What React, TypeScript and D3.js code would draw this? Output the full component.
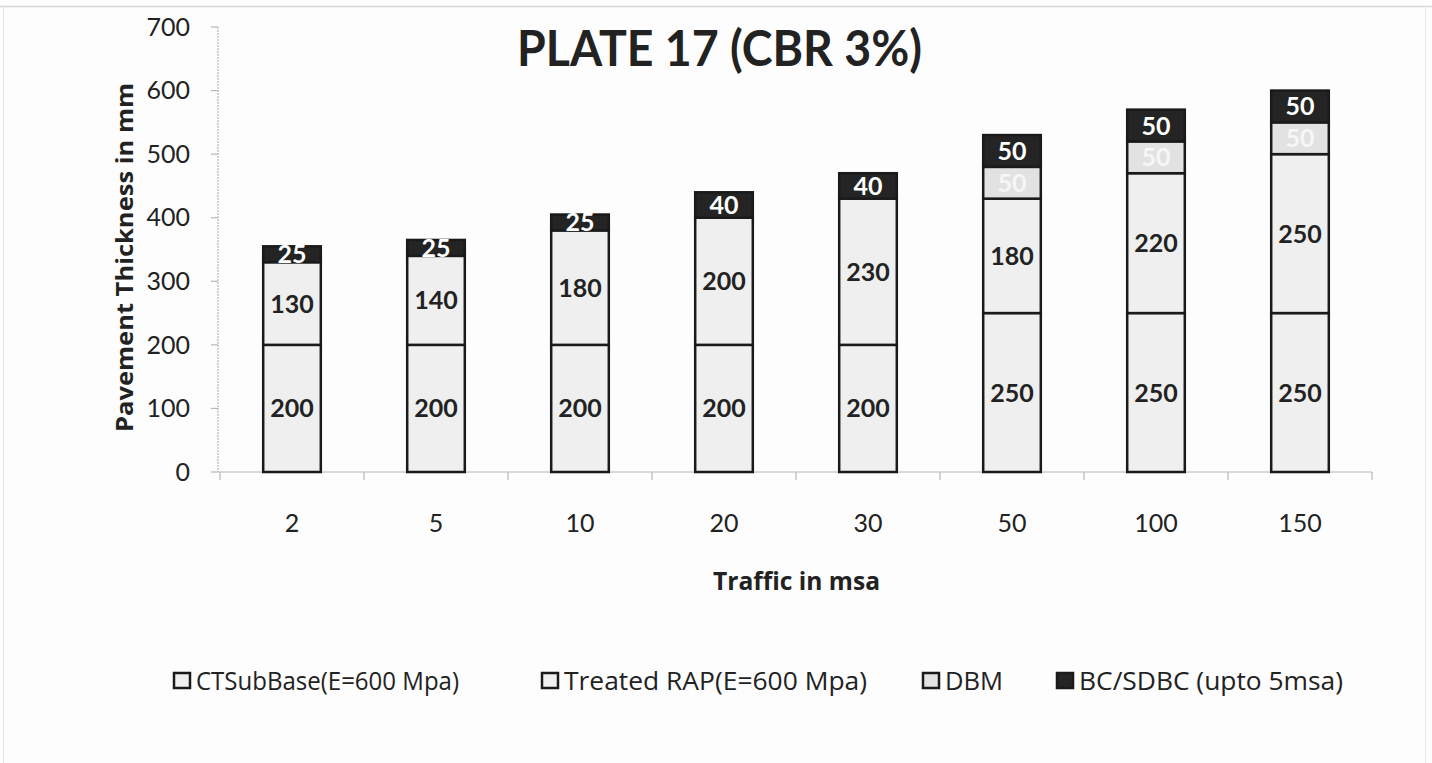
import React from "react";
import * as d3 from "d3";

const categories = ["2", "5", "10", "20", "30", "50", "100", "150"];
const ctSubBase = [200, 200, 200, 200, 200, 250, 250, 250];
const treatedRap = [130, 140, 180, 200, 230, 180, 220, 250];
const dbm = [0, 0, 0, 0, 0, 50, 50, 50];
const bcSdbc = [25, 25, 25, 40, 40, 50, 50, 50];
const seriesNames = ["CTSubBase(E=600 Mpa)", "Treated RAP(E=600 Mpa)", "DBM", "BC/SDBC (upto 5msa)"];
const yTicks = [0, 100, 200, 300, 400, 500, 600, 700];

const W = 1432, H = 763;
const FONT = "Lato, 'Open Sans', sans-serif";
const FONT2 = "'Open Sans', Lato, sans-serif";
const fills = ["#efefef", "#efefef", "#e2e2e2", "#242424"];
const labelColors = ["#222", "#222", "#f6f6f6", "#fff"];
const legendX = [174, 542, 923, 1057];
const legendLen = [263, 303, 58, 264];

export default function App() {
  const x = d3.scaleBand().domain(categories).range([220, 1372]).paddingInner(0.6).paddingOuter(0.3);
  const y = d3.scaleLinear().domain([0, 700]).range([472, 27]);
  const rows = categories.map((c, i) => ({ cat: c, s0: ctSubBase[i], s1: treatedRap[i], s2: dbm[i], s3: bcSdbc[i] }));
  const stack = d3.stack<any>().keys(["s0", "s1", "s2", "s3"])(rows);
  const bw = x.bandwidth();
  const step = x.step();
  const boundaries = d3.range(categories.length + 1).map((i) => 220 + i * step);

  return (
    <svg width={W} height={H} style={{ position: "absolute", left: 0, top: 0, background: "#fdfdfd" }} fontFamily={FONT}>
      <rect x={0} y={0} width={W} height={H} fill="#fdfdfd" />
      <line x1={0} x2={W} y1={6.5} y2={6.5} stroke="#d6d6d6" strokeWidth={1.5} />
      <line x1={3.5} x2={3.5} y1={6} y2={H} stroke="#e4e4e4" strokeWidth={1} />
      <line x1={1425.5} x2={1425.5} y1={6} y2={H} stroke="#e8e8e8" strokeWidth={1} />
      {/* axes */}
      <line x1={218} x2={218} y1={y(700)} y2={y(0)} stroke="#b8b8b8" strokeWidth={1.2} strokeDasharray="2,1" />
      {yTicks.map((t) => (
        <g key={t}>
          <line x1={211} x2={218} y1={y(t)} y2={y(t)} stroke="#b8b8b8" strokeWidth={1.2} />
          <text x={190} y={y(t)} dy="0.35em" textAnchor="end" fontSize={25} fill="#222">{t}</text>
        </g>
      ))}
      <line x1={218} x2={1372} y1={y(0)} y2={y(0)} stroke="#b8b8b8" strokeWidth={1.2} />
      {boundaries.map((b, i) => (
        <line key={i} x1={b} x2={b} y1={y(0)} y2={y(0) + 8} stroke="#b8b8b8" strokeWidth={1.2} />
      ))}
      {categories.map((c) => (
        <text key={c} x={(x(c) as number) + bw / 2} y={523} dy="0.35em" textAnchor="middle" fontSize={25} fill="#222">{c}</text>
      ))}
      {/* bars */}
      {stack.map((layer, li) => (
        <g key={li}>
          {layer.map((d, i) => {
            const v = d[1] - d[0];
            if (v <= 0) return null;
            const bx = x(categories[i]) as number;
            return (
              <g key={i}>
                <rect x={bx} y={y(d[1])} width={bw} height={y(d[0]) - y(d[1])} fill={fills[li]} stroke="#1a1a1a" strokeWidth={2.5} />
                <text x={bx + bw / 2} y={(y(d[0]) + y(d[1])) / 2} dy="0.36em" textAnchor="middle" fontSize={25} fontWeight="bold" fill={labelColors[li]}>{v}</text>
              </g>
            );
          })}
        </g>
      ))}
      {/* title */}
      <text x={719.5} y={66} textAnchor="middle" fontSize={49} fontWeight="bold" fill="#222" textLength={405} lengthAdjust="spacingAndGlyphs">PLATE 17 (CBR 3%)</text>
      <text transform={`translate(133,257.5) rotate(-90)`} textAnchor="middle" fontFamily={FONT2} fontSize={24} fontWeight="bold" fill="#222" textLength={349} lengthAdjust="spacingAndGlyphs">Pavement Thickness in mm</text>
      <text x={796.5} y={590} textAnchor="middle" fontFamily={FONT2} fontSize={25} fontWeight="bold" fill="#222" textLength={167} lengthAdjust="spacingAndGlyphs">Traffic in msa</text>
      {/* legend */}
      {seriesNames.map((n, i) => {
        const lx = legendX[i];
        return (
          <g key={n}>
            <rect x={lx} y={673} width={16} height={15} fill={fills[i]} stroke="#1a1a1a" strokeWidth={2.5} />
            <text x={lx + 22} y={690} fontFamily={FONT2} fontSize={25} fill="#222" textLength={legendLen[i]} lengthAdjust="spacingAndGlyphs">{n}</text>
          </g>
        );
      })}
    </svg>
  );
}
